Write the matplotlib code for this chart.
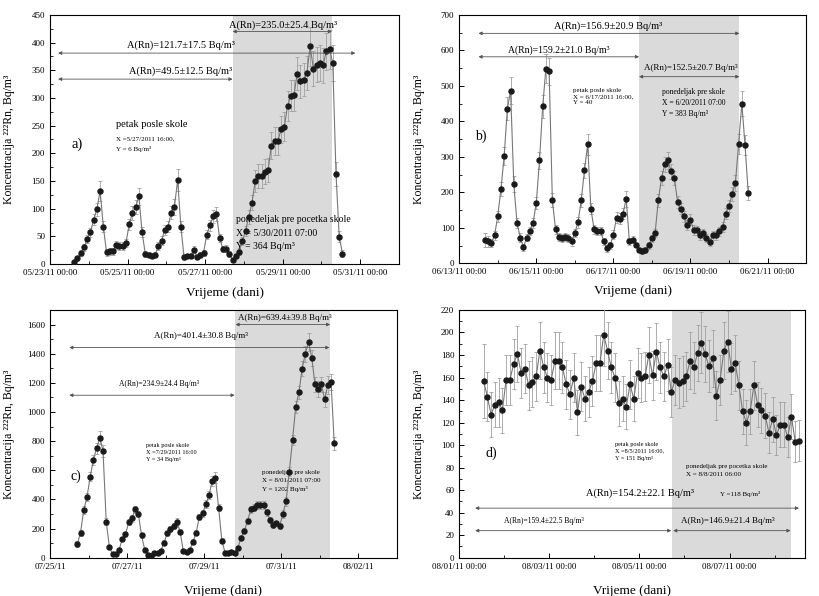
import matplotlib
matplotlib.use('Agg')
import matplotlib.pyplot as plt
import pandas as pd

# data: 2-hour radon readings
a_start = '2011-05-23 15:00'
a_vals = [3, 10, 20, 30, 45, 57, 80, 99, 132,
          67, 21, 23, 23, 35, 32, 33, 38, 72, 92, 103, 122,
          57, 18, 17, 15, 17, 32, 42, 62, 67, 93, 103, 152,
          67, 12, 14, 15, 26, 13, 16, 20, 53, 70, 86, 90,
          47, 27, 28, 18, 7,
          14, 22, 41, 60, 85, 111, 150, 159, 159, 167, 170, 214, 222, 222, 243, 248, 285,
          304, 305, 344, 330, 333, 345, 393, 353, 360, 363, 359, 384, 388, 363, 163, 49, 19]
a_errs = [3, 4, 5, 6, 7, 8, 10, 12, 18,
          10, 6, 6, 6, 7, 7, 7, 7, 10, 12, 13, 16,
          9, 5, 5, 5, 5, 7, 8, 9, 10, 12, 14, 20,
          10, 4, 4, 5, 6, 4, 5, 5, 8, 10, 12, 13,
          8, 6, 6, 5, 3,
          4, 5, 7, 9, 12, 14, 20, 22, 22, 22, 22, 24, 25, 25, 25, 26, 27,
          28, 28, 30, 30, 30, 30, 35, 32, 32, 32, 32, 34, 35, 33, 22, 10, 6]

b_start = '2011-06-13 16:00'
b_vals = [66, 62, 58, 79, 133, 209, 302, 436, 486, 224, 114, 73, 46, 72, 92, 114, 170, 290, 443, 549,
          541, 179, 96, 74, 72, 75, 72, 62, 86, 116, 178, 262, 335, 154, 96, 91, 91, 62, 43, 51, 81,
          129, 126, 140, 182, 62, 67, 53, 39, 35, 37, 51, 71, 86, 178, 241, 279, 290, 259, 241, 173,
          154, 133, 107, 123, 95, 93, 79, 85, 71, 60, 79, 79, 90, 102, 140, 162, 195, 226, 337, 450,
          333, 198]
b_errs = [20, 15, 12, 12, 15, 20, 25, 32, 38, 22, 14, 12, 10, 10, 12, 14, 18, 25, 32, 40,
          38, 20, 13, 12, 12, 12, 12, 12, 12, 15, 18, 22, 30, 16, 12, 12, 12, 10, 10, 10, 12,
          15, 15, 15, 22, 10, 10, 8, 8, 8, 8, 10, 10, 12, 18, 20, 22, 25, 22, 20, 18,
          16, 15, 14, 15, 14, 13, 12, 12, 12, 12, 12, 12, 13, 14, 16, 18, 20, 22, 28, 35,
          28, 20]

c_start = '2011-07-25 17:00'
c_vals = [94, 171, 327, 414, 555, 670, 750, 823, 733, 247, 71, 23, 23, 53, 128, 160, 243, 270, 333, 300,
          153, 53, 18, 14, 30, 34, 46, 103, 167, 196, 217, 247, 178, 46, 41, 53, 110, 171, 281, 304,
          367, 429, 528, 548, 343, 117, 34, 34, 41, 30, 69, 137, 185, 251, 331, 343, 361, 361, 361, 311,
          258, 224, 235, 219, 300, 386, 589, 807, 1035, 1134, 1298, 1401, 1480, 1373, 1189, 1157, 1189,
          1086, 1185, 1207, 784]
c_errs = [20, 20, 25, 28, 30, 35, 38, 45, 40, 25, 12, 10, 10, 12, 15, 18, 20, 22, 25, 22,
          16, 12, 10, 10, 10, 10, 10, 15, 18, 20, 20, 22, 18, 10, 10, 12, 15, 18, 22, 25,
          28, 28, 35, 38, 25, 15, 10, 10, 10, 10, 12, 16, 18, 22, 25, 25, 25, 25, 25, 25,
          22, 20, 20, 20, 25, 28, 30, 35, 40, 45, 50, 55, 60, 55, 50, 55, 50,
          50, 60, 55, 45]

d_start = '2011-08-01 13:00'
d_vals = [157, 143, 127, 136, 138, 131, 158, 158, 172, 181, 164, 168, 153, 156, 161, 184, 169, 160,
          158, 175, 175, 169, 154, 145, 160, 129, 152, 141, 147, 157, 173, 173, 198, 184, 169, 160,
          137, 141, 134, 154, 141, 164, 160, 161, 180, 162, 183, 169, 161, 171, 147, 158, 155, 157,
          161, 175, 169, 182, 191, 181, 170, 177, 144, 158, 184, 192, 168, 173, 153, 130, 120, 130,
          153, 136, 131, 126, 111, 123, 109, 118, 118, 107, 125, 103, 104]
d_errs = [33, 22, 20, 20, 22, 20, 22, 22, 22, 25, 22, 22, 22, 22, 22, 25, 23, 22,
          22, 25, 25, 23, 22, 22, 22, 20, 22, 20, 22, 22, 25, 25, 28, 25, 23, 22,
          20, 20, 20, 22, 20, 22, 22, 22, 25, 22, 25, 23, 22, 23, 22, 22, 22, 22,
          22, 25, 23, 25, 27, 25, 23, 25, 22, 22, 25, 27, 23, 25, 22, 20, 20, 20,
          22, 20, 20, 20, 18, 20, 18, 20, 20, 18, 20, 18, 18]

serif = 'Liberation Serif'
plt.rcParams['font.family'] = serif
plt.rcParams['axes.linewidth'] = 0.8

fig = plt.figure(figsize=(8.2, 5.96), dpi=100)
ylab = 'Koncentracija \u00b2\u00b2\u00b2Rn, Bq/m\u00b3'
T = pd.Timestamp


def draw_panel(rect, start, vals, errs, xlim, xticks, fmt, ylim, ystep, yminor, shade):
    ax = fig.add_axes(rect)
    times = pd.date_range(start, periods=len(vals), freq='2h')
    ax.axvspan(T(shade[0]), T(shade[1]), color='#dadada', lw=0, zorder=0)
    ax.errorbar(times, vals, yerr=errs, fmt='-o', color='#777777', ecolor='#a0a0a0',
                elinewidth=0.6, capsize=1.5, capthick=0.6, lw=0.8,
                mfc='#1a1a1a', mec='#1a1a1a', ms=3.6, zorder=3)
    ax.set_xlim(T(xlim[0]), T(xlim[1]))
    ax.set_ylim(*ylim)
    ticks = [T(t) for t in xticks]
    ax.set_xticks(ticks)
    ax.set_xticklabels([t.strftime(fmt) for t in ticks], fontsize=6.5)
    minors = [t + pd.Timedelta(days=1) for t in ticks]
    ax.set_xticks(minors, minor=True)
    ax.set_yticks(range(0, ylim[1] + 1, ystep))
    ax.set_yticks(range(0, ylim[1] + 1, yminor), minor=True)
    ax.tick_params(labelsize=6.5, direction='in', length=3.5, width=0.7)
    ax.tick_params(which='minor', direction='in', length=2, width=0.6)
    ax.set_ylabel(ylab, fontsize=8.5)
    ax.set_xlabel('Vrijeme (dani)', fontsize=9.5)
    return ax


def span(ax, t1, t2, y):
    ax.annotate('', xy=(T(t1), y), xytext=(T(t2), y),
                arrowprops=dict(arrowstyle='<|-|>', color='#555555', lw=0.6,
                                mutation_scale=5, shrinkA=0, shrinkB=0), zorder=4)


# a)
ax = draw_panel([0.061, 0.557, 0.4256, 0.418], a_start, a_vals, a_errs,
                ('2011-05-23', '2011-05-31'),
                ['2011-05-23', '2011-05-25', '2011-05-27', '2011-05-29', '2011-05-31'],
                '%m/%d/%y %H:%M', (0, 450), 50, 25,
                ('2011-05-27 17:00', '2011-05-30 06:30'))
ax.yaxis.set_label_coords(-0.1, 0.5)
ax.xaxis.set_label_coords(0.5, -0.092)
span(ax, '2011-05-27 17:00', '2011-05-30 06:30', 420)
ax.text(T('2011-05-29 00:00'), 432, 'A(Rn)=235.0\u00b125.4 Bq/m\u00b3', fontsize=7.5, ha='center', va='center')
span(ax, '2011-05-23 05:00', '2011-05-30 21:00', 381)
ax.text(T('2011-05-26 09:00'), 395, 'A(Rn)=121.7\u00b117.5 Bq/m\u00b3', fontsize=7.5, ha='center', va='center')
span(ax, '2011-05-23 05:00', '2011-05-27 17:00', 334)
ax.text(T('2011-05-26 09:00'), 348, 'A(Rn)=49.5\u00b112.5 Bq/m\u00b3', fontsize=7.5, ha='center', va='center')
ax.text(T('2011-05-24 17:00'), 252, 'petak posle skole', fontsize=7.5, va='center')
ax.text(T('2011-05-24 17:00'), 231, 'X =5/27/2011 16:00,\nY = 6 Bq/m\u00b3', fontsize=5,
        va='top', linespacing=2.0)
ax.text(T('2011-05-23 13:00'), 216, 'a)', fontsize=10.5, va='center')
ax.text(T('2011-05-27 19:00'), 80, 'ponedeljak pre pocetka skole', fontsize=7, va='center')
ax.text(T('2011-05-27 19:00'), 56, 'X = 5/30/2011 07:00', fontsize=7, va='center')
ax.text(T('2011-05-27 19:00'), 32, 'Y = 364 Bq/m\u00b3', fontsize=7, va='center')

# b)
ax = draw_panel([0.560, 0.558, 0.423, 0.417], b_start, b_vals, b_errs,
                ('2011-06-13', '2011-06-21'),
                ['2011-06-13', '2011-06-15', '2011-06-17', '2011-06-19', '2011-06-21'],
                '%m/%d/%y %H:%M', (0, 700), 100, 50,
                ('2011-06-17 16:00', '2011-06-20 06:30'))
ax.yaxis.set_label_coords(-0.098, 0.5)
ax.xaxis.set_label_coords(0.5, -0.088)
span(ax, '2011-06-13 12:00', '2011-06-20 06:30', 648)
ax.text(T('2011-06-16 21:00'), 667, 'A(Rn)=156.9\u00b120.9 Bq/m\u00b3', fontsize=7.5, ha='center', va='center')
span(ax, '2011-06-13 12:00', '2011-06-17 16:00', 582)
ax.text(T('2011-06-15 14:00'), 601, 'A(Rn)=159.2\u00b121.0 Bq/m\u00b3', fontsize=7, ha='center', va='center')
span(ax, '2011-06-17 16:00', '2011-06-20 06:30', 526)
ax.text(T('2011-06-19 00:00'), 550, 'A(Rn)=152.5\u00b120.7 Bq/m\u00b3', fontsize=6.5, ha='center', va='center')
ax.text(T('2011-06-15 23:00'), 495, 'petak posle skole\nX = 6/17/2011 16:00,\nY = 40', fontsize=5,
        va='top', linespacing=1.3)
ax.text(T('2011-06-18 06:00'), 495, 'ponedeljak pre skole\nX = 6/20/2011 07:00\nY = 383 Bq/m\u00b3',
        fontsize=5.5, va='top', linespacing=1.5)
ax.text(T('2011-06-13 10:00'), 357, 'b)', fontsize=10, va='center')

# c)
ax = draw_panel([0.061, 0.0643, 0.423, 0.4156], c_start, c_vals, c_errs,
                ('2011-07-25', '2011-08-02'),
                ['2011-07-25', '2011-07-27', '2011-07-29', '2011-07-31', '2011-08-02'],
                '%m/%d/%y', (0, 1700), 200, 100,
                ('2011-07-29 19:30', '2011-08-01 06:30'))
ax.yaxis.set_label_coords(-0.1, 0.5)
ax.xaxis.set_label_coords(0.5, -0.11)
span(ax, '2011-07-29 19:30', '2011-08-01 06:30', 1600)
ax.text(T('2011-07-31 02:00'), 1645, 'A(Rn)=639.4\u00b139.8 Bq/m\u00b3', fontsize=6.5, ha='center', va='center')
span(ax, '2011-07-25 12:00', '2011-08-01 06:00', 1442)
ax.text(T('2011-07-28 22:00'), 1520, 'A(Rn)=401.4\u00b130.8 Bq/m\u00b3', fontsize=6.5, ha='center', va='center')
span(ax, '2011-07-25 12:00', '2011-07-29 19:00', 1115)
ax.text(T('2011-07-27 20:00'), 1190, 'A(Rn)=234.9\u00b124.4 Bq/m\u00b3', fontsize=5.5, ha='center', va='center')
ax.text(T('2011-07-27 12:00'), 790, 'petak posle skole\nX =7/29/2011 16:00\nY = 34 Bq/m\u00b3', fontsize=4.5,
        va='top', linespacing=1.5)
ax.text(T('2011-07-30 12:00'), 600, 'ponedeljak pre skole\nX = 8/01/2011 07:00\nY = 1202 Bq/m\u00b3',
        fontsize=5, va='top', linespacing=1.6)
ax.text(T('2011-07-25 13:00'), 560, 'c)', fontsize=10, va='center')

# d)
ax = draw_panel([0.560, 0.0643, 0.422, 0.4156], d_start, d_vals, d_errs,
                ('2011-08-01', '2011-08-08 16:20'),
                ['2011-08-01', '2011-08-03', '2011-08-05', '2011-08-07'],
                '%m/%d/%y %H:%M', (0, 220), 20, 10,
                ('2011-08-05 17:30', '2011-08-08 08:30'))
ax.yaxis.set_label_coords(-0.098, 0.5)
ax.xaxis.set_label_coords(0.5, -0.11)
span(ax, '2011-08-01 08:30', '2011-08-08 13:00', 44)
ax.text(T('2011-08-05 00:30'), 57, 'A(Rn)=154.2\u00b122.1 Bq/m\u00b3', fontsize=7.5, ha='center', va='center')
span(ax, '2011-08-01 08:30', '2011-08-05 17:00', 24)
ax.text(T('2011-08-02 21:00'), 33, 'A(Rn)=159.4\u00b122.5 Bq/m\u00b3', fontsize=5.5, ha='center', va='center')
span(ax, '2011-08-05 18:00', '2011-08-08 08:30', 24)
ax.text(T('2011-08-06 23:00'), 33, 'A(Rn)=146.9\u00b121.4 Bq/m\u00b3', fontsize=6.5, ha='center', va='center')
ax.text(T('2011-08-04 11:00'), 103, 'petak posle skole\nX =8/5/2011 16:00,\nY = 151 Bq/m\u00b3', fontsize=4.5,
        va='top', linespacing=1.5)
ax.text(T('2011-08-06 01:00'), 83, 'ponedeljak pre pocetka skole\nX = 8/8/2011 06:00', fontsize=5,
        va='top', linespacing=1.6)
ax.text(T('2011-08-06 19:00'), 57, 'Y =118 Bq/m\u00b3', fontsize=5, va='center')
ax.text(T('2011-08-01 14:00'), 93, 'd)', fontsize=10, va='center')

fig.savefig('out.png', dpi=100)
